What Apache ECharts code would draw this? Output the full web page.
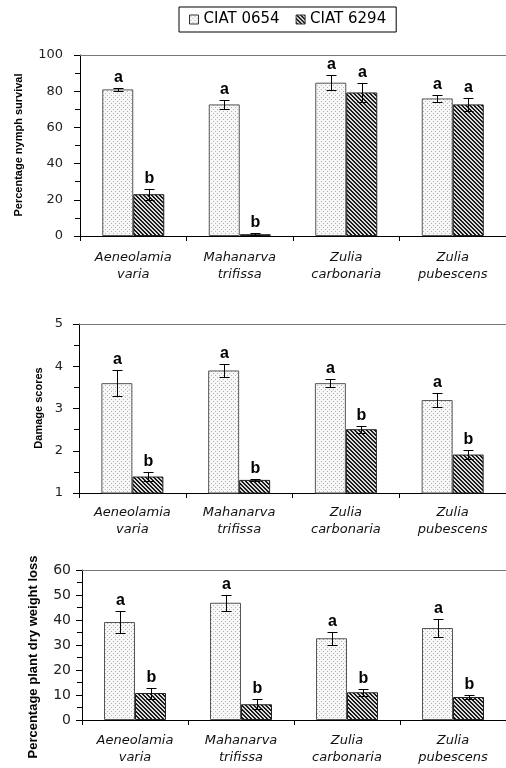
<!DOCTYPE html>
<html>
<head>
<meta charset="utf-8">
<script src="https://cdn.jsdelivr.net/npm/echarts/dist/echarts.min.js"></script>
<style>html,body{margin:0;padding:0;background:#fff}#c{width:506px;height:768px}</style>
</head>
<body>
<div id="c"></div>
<script>
// ---- data ----
const categories = ['Aeneolamia\nvaria', 'Mahanarva\ntrifissa', 'Zulia\ncarbonaria', 'Zulia\npubescens'];
const seriesNames = ['CIAT 0654', 'CIAT 6294'];

const survival0654 = [81, 72.7, 84.7, 76];
const survival0654Err = [0.8, 2.6, 4, 2];
const survival6294 = [23.1, 1, 79.3, 72.7];
const survival6294Err = [3, 0.6, 5, 3.4];
const survival0654Letters = ['a', 'a', 'a', 'a'];
const survival6294Letters = ['b', 'b', 'a', 'a'];

const damage0654 = [3.6, 3.9, 3.6, 3.2];
const damage0654Err = [0.3, 0.15, 0.1, 0.17];
const damage6294 = [1.39, 1.31, 2.51, 1.91];
const damage6294Err = [0.1, 0.03, 0.08, 0.11];
const damage0654Letters = ['a', 'a', 'a', 'a'];
const damage6294Letters = ['b', 'b', 'b', 'b'];

const loss0654 = [39.2, 46.9, 32.7, 36.8];
const loss0654Err = [4.3, 3.3, 2.6, 3.5];
const loss6294 = [10.8, 6.3, 11.1, 9.2];
const loss6294Err = [2.2, 2, 1.3, 0.8];
const loss0654Letters = ['a', 'a', 'a', 'a'];
const loss6294Letters = ['b', 'b', 'b', 'b'];

const yTitles = ['Percentage nymph survival', 'Damage scores', 'Percentage plant dry weight loss'];

// ---- patterns ----
function dotPattern() {
  const c = document.createElement('canvas'); c.width = 4; c.height = 4;
  const g = c.getContext('2d');
  g.fillStyle = '#f7f7f7'; g.fillRect(0, 0, 4, 4);
  g.fillStyle = '#b4b4b4'; g.fillRect(1, 1, 1, 1); g.fillRect(3, 3, 1, 1);
  return { image: c, repeat: 'repeat' };
}
function hatchPattern() {
  const c = document.createElement('canvas'); c.width = 4; c.height = 4;
  const g = c.getContext('2d');
  g.fillStyle = '#dcdcdc'; g.fillRect(0, 0, 4, 4);
  g.fillStyle = '#1a1a1a';
  for (let y = 0; y < 4; y++) for (let x = 0; x < 4; x++) {
    const k = ((x - y) % 4 + 4) % 4;
    if (k === 0 || k === 1) g.fillRect(x, y, 1, 1);
  }
  return { image: c, repeat: 'repeat' };
}
const fillA = dotPattern();
const fillB = hatchPattern();

// ---- layout ----
const grids = [
  { left: 80, top: 55, width: 428, height: 181 },
  { left: 79, top: 324, width: 430, height: 169 },
  { left: 82, top: 570, width: 428, height: 150 }
];
const yCfg = [
  { min: 0, max: 100, interval: 20, font: 13, margin: 17, xMargin: 13 },
  { min: 1, max: 5, interval: 1, font: 13, margin: 16, xMargin: 11 },
  { min: 0, max: 60, interval: 10, font: 14, margin: 11, xMargin: 12 }
];
const panels = [
  [survival0654, survival0654Err, survival0654Letters, survival6294, survival6294Err, survival6294Letters],
  [damage0654, damage0654Err, damage0654Letters, damage6294, damage6294Err, damage6294Letters],
  [loss0654, loss0654Err, loss0654Letters, loss6294, loss6294Err, loss6294Letters]
];

const BAR_W = 31;

function errSeries(p, vals, errs, letters, offset) {
  return {
    type: 'custom', xAxisIndex: p * 2, yAxisIndex: p, clip: false, silent: true, z: 5,
    data: vals.map((v, i) => [i, v, errs[i]]),
    encode: { x: 0, y: 1 },
    renderItem: function (params, api) {
      const i = api.value(0), v = api.value(1), e = api.value(2);
      const x = Math.round(api.coord([i, v])[0] + offset) + 0.5;
      const yT = Math.round(api.coord([i, v + e])[1]) + 0.5;
      const yB = Math.round(api.coord([i, v - e])[1]) + 0.5;
      const st = { stroke: '#000', lineWidth: 1 };
      return {
        type: 'group', children: [
          { type: 'line', shape: { x1: x, y1: yT, x2: x, y2: yB }, style: st },
          { type: 'line', shape: { x1: x - 5, y1: yT, x2: x + 5, y2: yT }, style: st },
          { type: 'line', shape: { x1: x - 5, y1: yB, x2: x + 5, y2: yB }, style: st },
          { type: 'text', x: x, y: yT - 3, style: { text: letters[params.dataIndex], fill: '#000', font: 'bold 16px "Liberation Sans", Arial, sans-serif', align: 'center', verticalAlign: 'bottom' } }
        ]
      };
    }
  };
}

const xAxis = [], yAxis = [], series = [];
panels.forEach((pd, p) => {
  const yc = yCfg[p];
  xAxis.push({
    type: 'category', gridIndex: p, data: categories, position: 'bottom',
    axisLine: { lineStyle: { color: '#000', width: 1 } },
    axisTick: { show: true, length: 5, interval: 0, lineStyle: { color: '#000' } },
    axisLabel: { interval: 0, margin: yc.xMargin, fontFamily: 'DejaVu Sans', fontStyle: 'italic', fontSize: 13, lineHeight: 17, color: '#111' }
  });
  xAxis.push({
    type: 'category', gridIndex: p, data: categories, position: 'top',
    axisLine: { lineStyle: { color: '#777', width: 1 } },
    axisTick: { show: false }, axisLabel: { show: false }
  });
  yAxis.push({
    type: 'value', gridIndex: p, min: yc.min, max: yc.max, interval: yc.interval,
    axisLine: { show: true, lineStyle: { color: '#000', width: 1 } },
    axisTick: { show: true, length: 6, lineStyle: { color: '#000' } },
    minorTick: { show: true, splitNumber: 2, length: 5, lineStyle: { color: '#000' } },
    splitLine: { show: false },
    axisLabel: { margin: yc.margin, fontFamily: 'DejaVu Sans', fontSize: yc.font, color: '#222' }
  });
  series.push({
    name: seriesNames[0], type: 'bar', xAxisIndex: p * 2, yAxisIndex: p, data: pd[0],
    barWidth: BAR_W, barGap: '0%',
    itemStyle: { color: fillA, borderColor: '#555', borderWidth: 1 }
  });
  series.push({
    name: seriesNames[1], type: 'bar', xAxisIndex: p * 2, yAxisIndex: p, data: pd[3],
    barWidth: BAR_W, barGap: '0%',
    itemStyle: { color: fillB, borderColor: '#222', borderWidth: 1 }
  });
  series.push(errSeries(p, pd[0], pd[1], pd[2], -BAR_W / 2));
  series.push(errSeries(p, pd[3], pd[4], pd[5], BAR_W / 2));
});

const titleFont = [
  { x: 19, y: 145, size: 11 },
  { x: 39, y: 408, size: 11 },
  { x: 33, y: 657, size: 13 }
];
const graphic = yTitles.map((t, i) => ({
  type: 'text', x: titleFont[i].x, y: titleFont[i].y, rotation: Math.PI / 2,
  style: { text: t, fill: '#000', font: 'bold ' + titleFont[i].size + 'px "Liberation Sans", Arial, sans-serif', align: 'center', verticalAlign: 'middle' }
}));

const chart = echarts.init(document.getElementById('c'), null, { renderer: 'canvas' });
chart.setOption({
  animation: false,
  backgroundColor: '#fff',
  grid: grids,
  xAxis: xAxis,
  yAxis: yAxis,
  legend: {
    data: seriesNames, left: 179, top: 7, padding: [5, 10, 5, 10], itemGap: 16,
    itemWidth: 9, itemHeight: 9, icon: 'rect', borderColor: '#000', borderWidth: 1,
    itemStyle: { borderColor: '#333', borderWidth: 1 },
    textStyle: { fontFamily: 'DejaVu Sans', fontSize: 15, color: '#000' }
  },
  graphic: graphic,
  series: series
});
</script>
</body>
</html>
